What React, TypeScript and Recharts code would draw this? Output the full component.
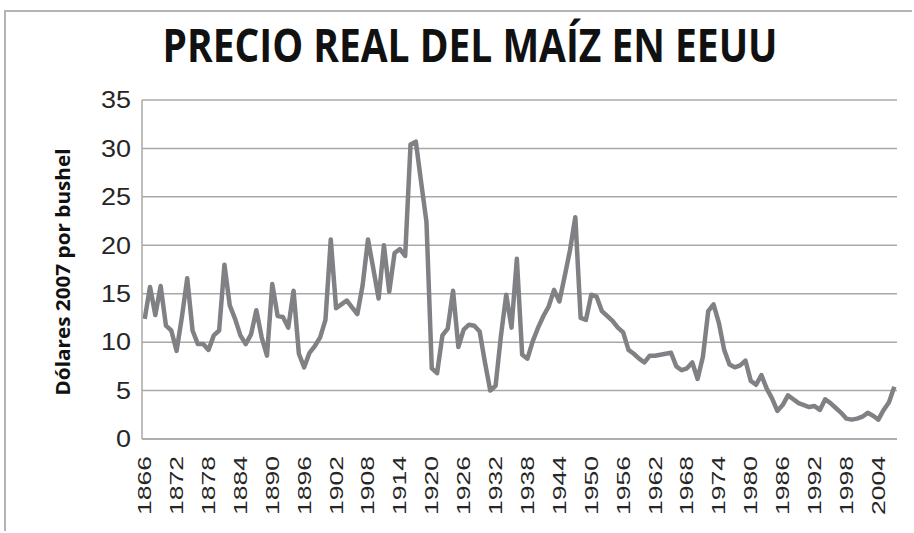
import { LineChart, Line, XAxis, YAxis, CartesianGrid } from "recharts"

const years = [
  1866, 1867, 1868, 1869, 1870, 1871, 1872, 1873, 1874, 1875, 1876, 1877, 1878, 1879,
  1880, 1881, 1882, 1883, 1884, 1885, 1886, 1887, 1888, 1889, 1890, 1891, 1892, 1893,
  1894, 1895, 1896, 1897, 1898, 1899, 1900, 1901, 1902, 1903, 1904, 1905, 1906, 1907,
  1908, 1909, 1910, 1911, 1912, 1913, 1914, 1915, 1916, 1917, 1918, 1919, 1920, 1921,
  1922, 1923, 1924, 1925, 1926, 1927, 1928, 1929, 1930, 1931, 1932, 1933, 1934, 1935,
  1936, 1937, 1938, 1939, 1940, 1941, 1942, 1943, 1944, 1945, 1946, 1947, 1948, 1949,
  1950, 1951, 1952, 1953, 1954, 1955, 1956, 1957, 1958, 1959, 1960, 1961, 1962, 1963,
  1964, 1965, 1966, 1967, 1968, 1969, 1970, 1971, 1972, 1973, 1974, 1975, 1976, 1977,
  1978, 1979, 1980, 1981, 1982, 1983, 1984, 1985, 1986, 1987, 1988, 1989, 1990, 1991,
  1992, 1993, 1994, 1995, 1996, 1997, 1998, 1999, 2000, 2001, 2002, 2003, 2004, 2005,
  2006, 2007,
]

// dólares de 2007 por bushel
const precio = [
  12.4, 15.7, 12.8, 15.8, 11.7, 11.2, 9.1, 12.6, 16.6, 11.2, 9.8, 9.8, 9.2, 10.7,
  11.2, 18.0, 13.8, 12.4, 10.7, 9.8, 10.8, 13.3, 10.5, 8.6, 16.0, 12.7, 12.6, 11.5,
  15.3, 8.8, 7.4, 8.9, 9.6, 10.5, 12.3, 20.6, 13.5, 13.9, 14.3, 13.6, 12.9, 15.9,
  20.6, 17.6, 14.5, 20.0, 15.2, 19.2, 19.6, 18.9, 30.4, 30.7, 26.5, 22.4, 7.3, 6.8,
  10.7, 11.4, 15.3, 9.5, 11.3, 11.8, 11.7, 11.1, 7.9, 5.0, 5.5, 10.6, 14.9, 11.5,
  18.6, 8.7, 8.3, 10.1, 11.5, 12.7, 13.7, 15.4, 14.2, 16.8, 19.5, 22.9, 12.5, 12.3,
  14.9, 14.7, 13.2, 12.7, 12.2, 11.5, 11.0, 9.2, 8.8, 8.3, 7.9, 8.6, 8.6, 8.7,
  8.8, 8.9, 7.5, 7.1, 7.3, 7.9, 6.2, 8.5, 13.2, 13.9, 12.0, 9.2, 7.7, 7.4,
  7.6, 8.1, 6.0, 5.6, 6.6, 5.2, 4.2, 2.9, 3.5, 4.5, 4.1, 3.7, 3.5, 3.3,
  3.4, 3.0, 4.1, 3.7, 3.2, 2.7, 2.1, 2.0, 2.1, 2.3, 2.7, 2.4, 2.0, 3.0,
  3.8, 5.4,
]

const yTicks = [0, 5, 10, 15, 20, 25, 30, 35]

const data = years.map((y, i) => ({ year: String(y), precio: precio[i] }))

function YearTick(props: any) {
  const { x, y, payload } = props
  return (
    <g transform={`translate(${x},${y})`}>
      <text
        transform="rotate(-90)"
        textAnchor="end"
        dy="0.36em"
        fontSize={18}
        fill="#262626"
        fontFamily="Liberation Sans, Arial, sans-serif"
        textLength={59}
        lengthAdjust="spacingAndGlyphs"
      >
        {payload.value}
      </text>
    </g>
  )
}

function ValueTick(props: any) {
  const { x, y, payload } = props
  const label = String(payload.value)
  return (
    <text
      x={x}
      y={y}
      dy="0.36em"
      textAnchor="end"
      fontSize={23}
      fill="#262626"
      fontFamily="Liberation Sans, Arial, sans-serif"
      textLength={label.length * 15}
      lengthAdjust="spacingAndGlyphs"
    >
      {label}
    </text>
  )
}

export default function App() {
  return (
    <div style={{ position: "fixed", left: 0, top: 0, width: 914, height: 533, background: "#fff" }}>
      <div style={{ position: "absolute", left: 4, top: 10, width: 906, height: 519, border: "2px solid #b4b4b4", borderRight: "none", borderBottom: "none" }} />
      <svg width={914} height={533} style={{ position: "absolute", left: 0, top: 0 }}>
        <text
          x={470}
          y={62}
          textAnchor="middle"
          fontFamily="Open Sans, sans-serif"
          fontWeight={700}
          fontSize={46}
          fill="#111"
          textLength={615}
          lengthAdjust="spacingAndGlyphs"
        >
          PRECIO REAL DEL MAÍZ EN EEUU
        </text>
        <text
          transform="translate(70,272) rotate(-90)"
          textAnchor="middle"
          fontFamily="Open Sans, sans-serif"
          fontWeight={700}
          fontSize={19}
          fill="#111"
          textLength={247}
          lengthAdjust="spacingAndGlyphs"
        >
          Dólares 2007 por bushel
        </text>
      </svg>
      <div style={{ position: "absolute", left: 0, top: 0 }}>
        <LineChart width={914} height={533} data={data} margin={{ top: 100, right: 17, bottom: 0, left: 0 }}>
          <CartesianGrid vertical={false} stroke="#a8a8a8" strokeWidth={1.5} />
          <XAxis
            dataKey="year"
            interval={5}
            padding={{ left: 2.7, right: 2.7 }}
            axisLine={{ stroke: "#a8a8a8", strokeWidth: 1.5 }}
            tickLine={false}
            tick={<YearTick />}
            tickSize={0}
            tickMargin={17}
            height={94}
          />
          <YAxis
            width={142}
            domain={[0, 35]}
            ticks={yTicks}
            axisLine={{ stroke: "#a8a8a8", strokeWidth: 1.5 }}
            tickLine={false}
            tickSize={0}
            tickMargin={11}
            tick={<ValueTick />}
          />
          <Line
            type="linear"
            dataKey="precio"
            stroke="#808184"
            strokeWidth={4.5}
            strokeLinejoin="round"
            dot={false}
            activeDot={false}
            isAnimationActive={false}
          />
        </LineChart>
      </div>
    </div>
  )
}
